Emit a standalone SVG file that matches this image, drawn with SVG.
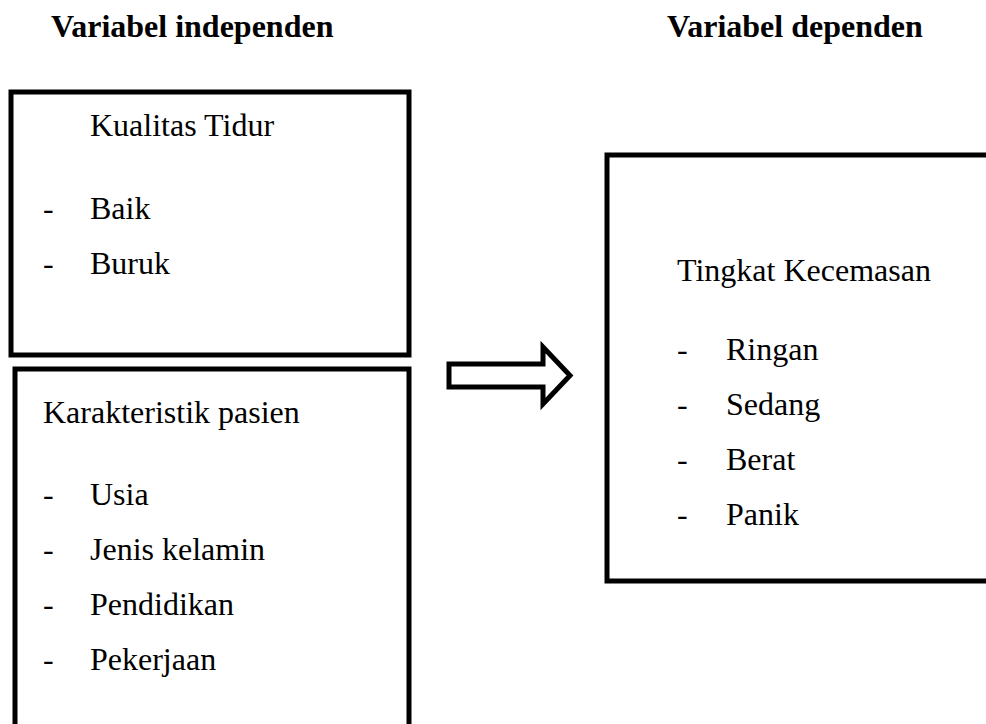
<svg xmlns="http://www.w3.org/2000/svg" width="986" height="724" viewBox="0 0 986 724">
<style>
.box{fill:none;stroke:#000;stroke-width:5}
.t{font-family:"Liberation Serif","Times New Roman",serif;font-size:32px;fill:#000}
.h{font-family:"Liberation Serif","Times New Roman",serif;font-size:32px;font-weight:bold;fill:#000}
</style>
<rect width="986" height="724" fill="#fff"/>
<g id="headings">
<text class="h" x="51" y="37">Variabel independen</text>
<text class="h" x="667" y="37">Variabel dependen</text>
</g>
<g id="kualitas-tidur">
<rect class="box" x="11" y="92" width="398" height="263"/>
<text class="t" x="90" y="136">Kualitas Tidur</text>
<text class="t" x="43" y="219">-</text><text class="t" x="90" y="219">Baik</text>
<text class="t" x="43" y="274">-</text><text class="t" x="90" y="274">Buruk</text>
</g>
<g id="karakteristik-pasien">
<rect class="box" x="15" y="369" width="394" height="400"/>
<text class="t" x="43" y="423">Karakteristik pasien</text>
<text class="t" x="43" y="505">-</text><text class="t" x="90" y="505">Usia</text>
<text class="t" x="43" y="560">-</text><text class="t" x="90" y="560">Jenis kelamin</text>
<text class="t" x="43" y="615">-</text><text class="t" x="90" y="615">Pendidikan</text>
<text class="t" x="43" y="670">-</text><text class="t" x="90" y="670">Pekerjaan</text>
</g>
<g id="tingkat-kecemasan">
<rect class="box" x="607" y="155" width="420" height="426"/>
<text class="t" x="677" y="281">Tingkat Kecemasan</text>
<text class="t" x="677" y="360">-</text><text class="t" x="726" y="360">Ringan</text>
<text class="t" x="677" y="415">-</text><text class="t" x="726" y="415">Sedang</text>
<text class="t" x="677" y="470">-</text><text class="t" x="726" y="470">Berat</text>
<text class="t" x="677" y="525">-</text><text class="t" x="726" y="525">Panik</text>
</g>
<g id="connectors">
<path class="box" d="M449,364 H543 V347 L570,375.5 L543,404 V387 H449 Z" stroke-linejoin="miter"/>
</g>
</svg>
